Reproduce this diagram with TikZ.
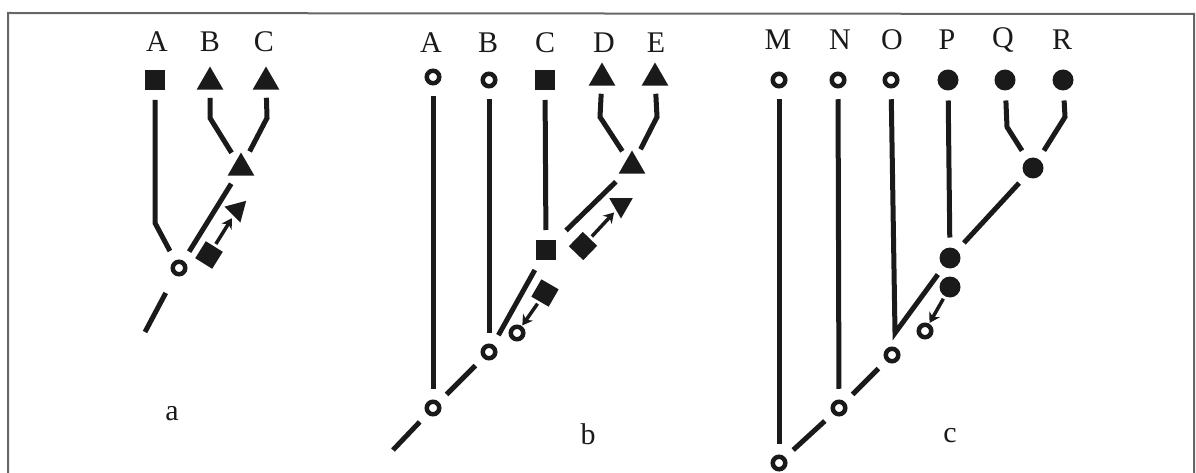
\documentclass[tikz,border=0pt]{standalone}
\usepackage{fontspec}
\setmainfont{Liberation Serif}
\usetikzlibrary{shapes.geometric,arrows.meta}
\definecolor{ink}{HTML}{1A1A1A}
\begin{document}
\begin{tikzpicture}[x=1pt,y=-1pt,
  edge/.style={draw=ink,line width=5pt},
  ocirc/.style={circle,draw=ink,line width=4.5pt,fill=white,minimum size=12.5pt,inner sep=0pt,outer sep=13pt},
  fsq/.style={rectangle,fill=ink,minimum size=20pt,inner sep=0pt,outer sep=10pt},
  ftri/.style={regular polygon,regular polygon sides=3,fill=ink,minimum size=31pt,inner sep=0pt,outer sep=8pt},
  fcirc/.style={circle,fill=ink,minimum size=21pt,inner sep=0pt,outer sep=10pt},
  par/.style={outer sep=3pt},
  mig/.style={draw=ink,line width=3.5pt,-{Stealth[length=10pt,width=12pt]}},
  lbl/.style={font=\fontsize{30}{32}\selectfont,text=ink,inner sep=0pt},
]
\useasboundingbox (0,0) rectangle (1196,473);
\draw[black!60,line width=2pt] (8,473) -- (8,13) -- (1194,14) -- (1194,473);

% ---------- panel a ----------
\node[lbl] (laA) at (157,42) {A};
\node[lbl] (laB) at (210,42) {B};
\node[lbl] (laC) at (264,42) {C};
\node[fsq] (aA) at (155,80) {};
\node[ftri] (aB) at (210,82) {};
\node[ftri] (aC) at (266,82) {};
\node[ftri] (aBC) at (241,168) {};
\node[ocirc] (aR) at (179,268) {};
\coordinate (aAk) at (155,223);
\coordinate (aBk) at (210,118);
\coordinate (aCk) at (267,118);
\coordinate (aS) at (145,332);
\draw[edge] (aA) -- (aAk) -- (aR);
\draw[edge] (aB) -- (aBk) -- (aBC);
\draw[edge] (aC) -- (aCk) -- (aBC);
\draw[edge] (aR) -- (aBC);
\draw[edge,shorten <=9pt] (aR) -- (aS);
\node[fsq,par,rotate=58] (aPs) at (209,255) {};
\node[ftri,par,minimum size=26pt,rotate=195] (aPt) at (237,210) {};
\draw[mig] (aPs) -- (aPt);
\node[lbl] (la) at (172,414) {a};

% ---------- panel b ----------
\node[lbl] (lbA) at (431,43) {A};
\node[lbl] (lbB) at (488,43) {B};
\node[lbl] (lbC) at (545,43) {C};
\node[lbl] (lbD) at (604,43) {D};
\node[lbl] (lbE) at (656,43) {E};
\node[ocirc] (bA) at (433,77) {};
\node[ocirc] (bB) at (489,80) {};
\node[fsq] (bC) at (545,80) {};
\node[ftri] (bD) at (602,78) {};
\node[ftri] (bE) at (655,78) {};
\node[ocirc] (bR) at (433,408) {};
\node[ocirc] (bn1) at (489,352) {};
\node[fsq] (bCn) at (546,250) {};
\node[ftri] (bDE) at (632,166) {};
\coordinate (bDk) at (600,117);
\coordinate (bEk) at (657,117);
\coordinate (bS) at (393,450);
\draw[edge] (bA) -- (bR);
\draw[edge] (bB) -- (bn1);
\draw[edge] (bC) -- (bCn);
\draw[edge] (bD) -- (bDk) -- (bDE);
\draw[edge] (bE) -- (bEk) -- (bDE);
\draw[edge] (bR) -- (bn1);
\draw[edge] (bn1) -- (bCn);
\draw[edge] (bCn) -- (bDE);
\draw[edge] (bR) -- (bS);
\node[ocirc,par] (bPc) at (517,333) {};
\node[fsq,par,rotate=60] (bPs) at (545,293) {};
\draw[mig] (bPs) -- (bPc);
\node[fsq,par,rotate=46] (bQs) at (583,246) {};
\node[ftri,par,minimum size=27pt,rotate=180] (bQt) at (621,205) {};
\draw[mig] (bQs) -- (bQt);
\node[lbl] (lb) at (588,434) {b};

% ---------- panel c ----------
\node[lbl] (lcM) at (778,40) {M};
\node[lbl] (lcN) at (840,40) {N};
\node[lbl] (lcO) at (892,40) {O};
\node[lbl] (lcP) at (947,40) {P};
\node[lbl] (lcQ) at (1003,40) {Q};
\node[lbl] (lcR) at (1062,40) {R};
\node[ocirc] (cM) at (779,80) {};
\node[ocirc] (cN) at (838,80) {};
\node[ocirc] (cO) at (891,80) {};
\node[fcirc] (cP) at (948,80) {};
\node[fcirc] (cQ) at (1005,80) {};
\node[fcirc] (cR) at (1063,80) {};
\node[ocirc] (cR0) at (779,463) {};
\node[ocirc] (cn1) at (839,408) {};
\node[ocirc] (cn2) at (892,355) {};
\node[fcirc] (cPn) at (950,258) {};
\node[fcirc] (cQR) at (1033,168) {};
\coordinate (cOk) at (895,333);
\coordinate (cQk) at (1007,127);
\coordinate (cRk) at (1065,117);
\draw[edge] (cM) -- (cR0);
\draw[edge] (cN) -- (cn1);
\draw[edge] (cO) -- (cOk) -- (cPn);
\draw[edge] (cP) -- (cPn);
\draw[edge] (cQ) -- (cQk) -- (cQR);
\draw[edge] (cR) -- (cRk) -- (cQR);
\draw[edge] (cR0) -- (cn1);
\draw[edge] (cn1) -- (cn2);
\draw[edge] (cPn) -- (cQR);
\node[ocirc,par] (cPc) at (925,331) {};
\node[fcirc,par] (cPf) at (950,287) {};
\draw[mig] (cPf) -- (cPc);
\node[lbl] (lc) at (950,436) {c};
\end{tikzpicture}
\end{document}
